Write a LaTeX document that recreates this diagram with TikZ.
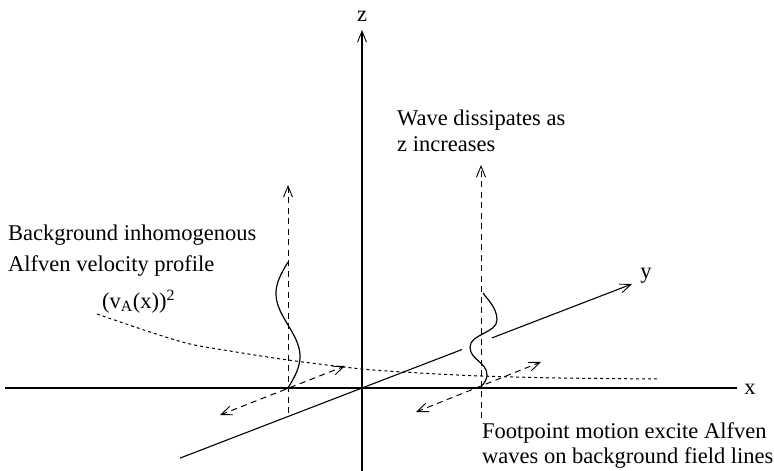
\documentclass[tikz,border=0pt]{standalone}
\usepackage{fontspec}
\setmainfont{Liberation Serif}
\usetikzlibrary{arrows.meta}
\begin{document}
\begin{tikzpicture}[x=1pt,y=-1pt,
  axis/.style={line width=1.1pt},
  tip/.style={-{Straight Barb[length=11pt,width=9pt,line width=0.9pt]}},
  tips/.style={{Straight Barb[length=11pt,width=9pt,line width=0.9pt]}-{Straight Barb[length=11pt,width=9pt,line width=0.9pt]}},
  dashline/.style={line width=1pt, dash pattern=on 6pt off 4.5pt},
  dotline/.style={line width=1pt, dash pattern=on 3pt off 3pt},
  wave/.style={line width=1.2pt},
  txt/.style={font=\fontsize{22.5}{27}\selectfont, inner sep=0pt, anchor=base west},
  lbl/.style={font=\fontsize{22.5}{27}\selectfont, inner sep=0pt}]
\useasboundingbox (0,0) rectangle (774,471);
% axes
\coordinate (O) at (362,388);
\coordinate (xL) at (5,388);
\coordinate (xR) at (737,388);
\coordinate (zB) at (362,471);
\coordinate (zT) at (362,30);
\coordinate (yB) at (180,458.1);
\coordinate (yG1) at (462,349.5);
\coordinate (yG2) at (492,337.9);
\coordinate (yT) at (632,284);
\draw[axis] (xL) -- (xR);
\draw[axis,tip] (zB) -- (zT);
\draw[axis] (yB) -- (yG1);
\draw[axis,tip] (yG2) -- (yT);
\node[lbl] (xl) at (750,389) {x};
\node[lbl] (zl) at (362,16) {z};
\node[lbl] (yl) at (646,276) {y};
% field lines
\coordinate (f1b) at (288,413);
\coordinate (f1t) at (288,185);
\coordinate (f2b) at (481,418);
\coordinate (f2t) at (481,165);
\draw[dashline,tip] (f1b) -- (f1t);
\draw[dashline,tip] (f2b) -- (f2t);
% footpoint motions
\coordinate (m1a) at (220,415);
\coordinate (m1b) at (345,366);
\coordinate (m2a) at (416,412);
\coordinate (m2b) at (541,362);
\draw[dashline,tips] (m1a) -- (m1b);
\draw[dashline,tips] (m2a) -- (m2b);
% velocity profile
\draw[dotline] plot[smooth] coordinates {(97,314) (150,332) (190,344) (230,351) (288,360) (362,369) (420,373) (481,376) (560,378) (658,379)};
% waves
\draw[wave] plot[domain=0:1,samples=60,smooth] ({288+12*sin(360*\x)},{388-126*\x});
\draw[wave] (481,387) .. controls (485,382) and (487,379) .. (487,375)
  .. controls (487,362) and (470,360) .. (470,347)
  .. controls (470,334) and (497,333) .. (497,320)
  .. controls (497,308) and (488,300) .. (483,293);
% texts
\node[txt] (t1) at (8,240) {Background inhomogenous};
\node[txt] (t2) at (8,271) {Alfven velocity profile};
\node[txt] (t3) at (102,308) {(v\textsubscript{A}(x))\textsuperscript{2}};
\node[txt] (t4) at (397,125) {Wave dissipates as};
\node[txt] (t5) at (397,151) {z increases};
\node[txt] (t6) at (482,438) {Footpoint motion excite Alfven};
\node[txt] (t7) at (482,463) {waves on background field lines};
\end{tikzpicture}
\end{document}
